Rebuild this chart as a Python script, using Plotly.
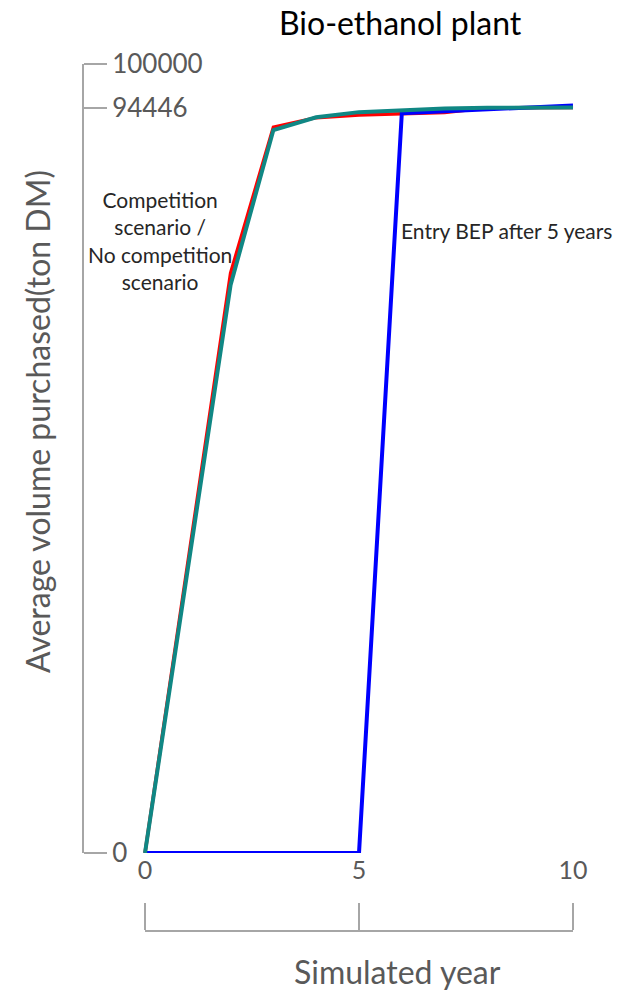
import plotly.graph_objects as go

# ---------------- data ----------------
years_comp = [0, 2, 3, 4, 5, 6, 7, 8, 9, 10]
competition = [0, 73500, 92000, 93200, 93550, 93750, 93850, 94450, 94500, 94500]

years_nocomp = [0, 2, 3, 4, 5, 6, 7, 8, 9, 10]
no_competition = [0, 72000, 91630, 93240, 93900, 94150, 94350, 94450, 94500, 94500]

years_entry = [0, 5, 6, 7, 8, 9, 10]
entry_bep = [0, 0, 93750, 94000, 94300, 94550, 94750]

x_ticks = [0, 5, 10]
y_ticks = [0, 94446, 100000]
y_tick_labels = ["0", "94446", "100000"]

# ---------------- layout helpers ----------------
OFF = 0  # body margin is reset to 0 below
W, H = 620 - OFF, 992 - OFF
ML, MR, MT, MB = 83 - OFF, 10, 64 - OFF, 0
PW, PH = W - ML - MR, H - MT - MB


def px(x):  # window pixel -> paper fraction
    return (x - OFF - ML) / PW


def py(y):
    return (H - MB - (y - OFF)) / PH


X0_PX, X10_PX = 145, 573  # window pixel positions of year 0 and year 10
ppy = (X10_PX - X0_PX) / 10.0
x_range = [-(X0_PX - OFF - ML) / ppy, (W - MR - (X0_PX - OFF)) / ppy]

GRAY = "#a6a6a6"
TXT = "#595959"
FONT = "Lato, 'Open Sans', sans-serif"

fig = go.Figure()
fig.add_trace(go.Scatter(x=years_comp, y=competition, mode="lines",
                         line=dict(color="#ff0000", width=3.5), cliponaxis=False,
                         name="Competition scenario", hoverinfo="skip"))
fig.add_trace(go.Scatter(x=years_entry, y=entry_bep, mode="lines",
                         line=dict(color="#0000ff", width=4), cliponaxis=False,
                         name="Entry BEP after 5 years", hoverinfo="skip"))
fig.add_trace(go.Scatter(x=years_nocomp, y=no_competition, mode="lines",
                         line=dict(color="#108784", width=4), cliponaxis=False,
                         name="No competition scenario", hoverinfo="skip"))
# invisible carrier so that the bracket axis (x2 / y2) below the chart is drawn
fig.add_trace(go.Scatter(x=[x_ticks[0], x_ticks[-1]], y=[0, 0], xaxis="x2", yaxis="y2",
                         mode="lines", line=dict(width=0), opacity=0,
                         showlegend=False, hoverinfo="skip"))

fig.update_layout(
    template="none",
    width=W, height=H,
    margin=dict(l=ML, r=MR, t=MT, b=MB, pad=0, autoexpand=False),
    plot_bgcolor="white", paper_bgcolor="white",
    showlegend=False,
    font=dict(family=FONT, color=TXT),
    xaxis=dict(range=x_range, domain=[0, 1], anchor="y", automargin=False,
               showgrid=False, zeroline=False, showline=False,
               tickmode="array", tickvals=x_ticks, ticks="",
               tickfont=dict(size=25, color=TXT, family=FONT),
               ticklabelstandoff=0),
    yaxis=dict(range=[0, 100000], domain=[py(853), 1], automargin=False,
               anchor="free", position=0, side="right",
               showgrid=False, zeroline=False,
               showline=True, linecolor=GRAY, linewidth=2,
               tickmode="array", tickvals=y_ticks, ticktext=y_tick_labels,
               ticks="outside", ticklen=23, tickwidth=2, tickcolor=GRAY,
               tickfont=dict(size=26, color=TXT, family=FONT),
               ticklabelstandoff=0),
    # bracket axis under the tick labels: line with upward ticks at 0, 5, 10
    xaxis2=dict(range=[x_ticks[0], x_ticks[-1]], domain=[px(X0_PX), px(X10_PX)],
                anchor="y2", side="top", automargin=False,
                showgrid=False, zeroline=False,
                showline=True, linecolor=GRAY, linewidth=2,
                tickmode="array", tickvals=x_ticks, ticks="outside",
                ticklen=27, tickwidth=2, tickcolor=GRAY,
                showticklabels=False),
    yaxis2=dict(domain=[py(932) - 0.02, py(932)], anchor="x2", range=[0, 1],
                visible=False, automargin=False),
)

annotations = [
    dict(text="Bio-ethanol plant", x=px(400), y=py(23),
         font=dict(size=32, color="#000000", family=FONT)),
    dict(text="Average volume purchased(ton DM)", x=px(37), y=py(422),
         textangle=-90, font=dict(size=32, color=TXT, family=FONT)),
    dict(text="Simulated year", x=px(397), y=py(971),
         font=dict(size=32, color=TXT, family=FONT)),
    dict(text="Competition<br>scenario /<br>No competition<br>scenario",
         x=px(160), y=py(241), align="center",
         font=dict(size=21, color="#262626", family=FONT)),
    dict(text="Entry BEP after 5 years", x=px(399), y=py(231), xanchor="left",
         font=dict(size=21, color="#262626", family=FONT)),
]
for a in annotations:
    a.setdefault("xanchor", "center")
    a.update(xref="paper", yref="paper", yanchor="middle", showarrow=False)
fig.update_layout(annotations=annotations)

fig.write_html("out.html",
               config={"displayModeBar": False},
               post_script="document.body.style.margin='0px';")
